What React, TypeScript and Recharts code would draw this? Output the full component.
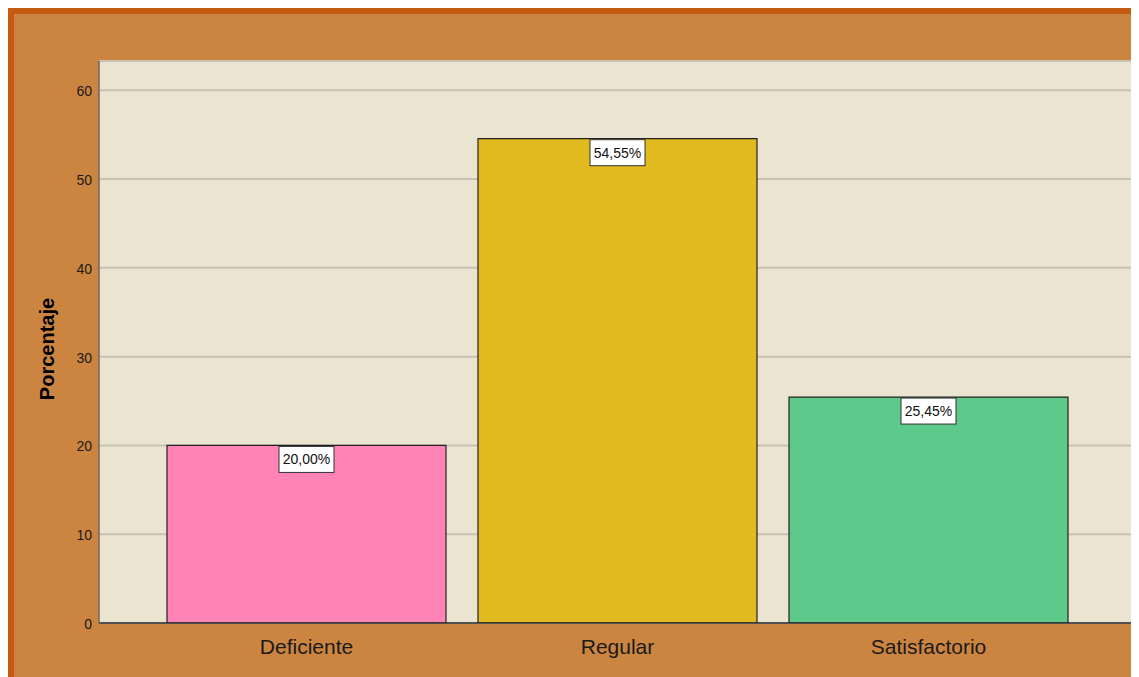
import React from "react";
import { BarChart, Bar, XAxis, YAxis, CartesianGrid, Cell, LabelList } from "recharts";

const categories = ["Deficiente", "Regular", "Satisfactorio"];
const values = [20.0, 54.55, 25.45];
const valueLabels = ["20,00%", "54,55%", "25,45%"];
const colors = ["#FF83B5", "#E0BA1F", "#5DC98A"];
const yTicks = [0, 10, 20, 30, 40, 50, 60];

const data = categories.map((c, i) => ({ name: c, value: values[i], label: valueLabels[i] }));

const FONT = "'Liberation Sans', Arial, sans-serif";

const BoxLabel = (props: any) => {
  const { x, y, width, index } = props;
  const cx = x + width / 2;
  const w = 55;
  const h = 26;
  return (
    <g>
      <rect x={cx - w / 2} y={y + 1} width={w} height={h} fill="#FFFFFF" stroke="#333333" strokeWidth={1} />
      <text x={cx} y={y + 1 + h / 2} textAnchor="middle" dominantBaseline="central" fontSize={14} fill="#111" fontFamily={FONT}>
        {valueLabels[index]}
      </text>
    </g>
  );
};

const YLabel = (props: any) => {
  const vb = props.viewBox || {};
  const lx = (vb.x ?? 0) + 33;
  const ly = (vb.y ?? 0) + (vb.height ?? 0) / 2 + 7;
  return (
    <text
      x={lx}
      y={ly}
      transform={`rotate(-90, ${lx}, ${ly})`}
      textAnchor="middle"
      dominantBaseline="central"
      fontSize={20}
      fontWeight="bold"
      fill="#000"
      fontFamily={FONT}
    >
      Porcentaje
    </text>
  );
};

export default function App() {
  return (
    <div
      style={{
        width: 1131,
        height: 669,
        background: "#CC8540",
        borderTop: "6px solid #C55A11",
        borderLeft: "6px solid #C55A11",
        boxSizing: "border-box",
        overflow: "hidden",
      }}
    >
      <BarChart width={1125} height={663} data={data} margin={{ top: 47, right: 4, left: 0, bottom: 0 }}>
        <CartesianGrid vertical={false} horizontal={true} stroke="#C8C2B3" strokeWidth={2} fill="#EAE4D0" />
        <XAxis
          dataKey="name"
          height={54}
          padding={{ left: 52, right: 51 }}
          tickLine={false}
          tickSize={0}
          tickMargin={16}
          axisLine={{ stroke: "#2a2a2a", strokeWidth: 1.5 }}
          tick={{ fontSize: 21, fill: "#1a1a1a", fontFamily: FONT }}
        />
        <YAxis
          width={85}
          domain={[0, 63.3]}
          ticks={yTicks}
          allowDataOverflow
          tickLine={false}
          tickSize={0}
          tickMargin={7}
          axisLine={{ stroke: "#6e6a62", strokeWidth: 1.5 }}
          tick={{ fontSize: 14, fill: "#1a1a1a", fontFamily: FONT, dy: 1 }}
          label={{ content: YLabel }}
        />
        <Bar dataKey="value" barSize={279} stroke="#222" strokeWidth={1.2} isAnimationActive={false}>
          {data.map((d, i) => (
            <Cell key={d.name} fill={colors[i]} />
          ))}
          <LabelList dataKey="label" content={BoxLabel} />
        </Bar>
      </BarChart>
    </div>
  );
}
